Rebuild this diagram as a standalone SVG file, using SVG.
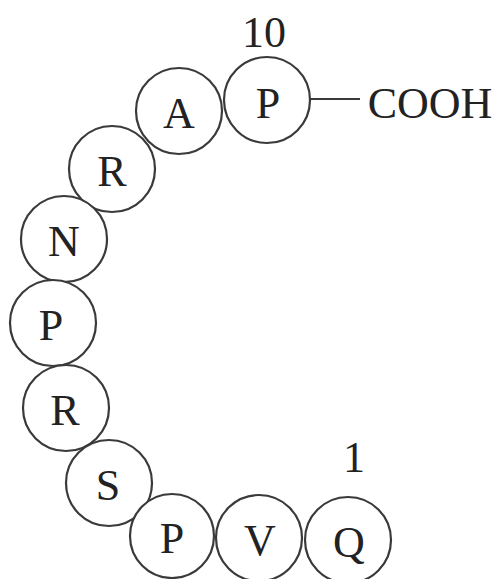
<svg xmlns="http://www.w3.org/2000/svg" width="500" height="579" viewBox="0 0 500 579">
<style>
circle{fill:#fff;stroke:#3a3a3a;stroke-width:2.2}
text{font-family:"Liberation Serif","Times New Roman",serif;font-size:44px;fill:#222;text-anchor:middle}
.c{stroke:#3a3a3a;stroke-width:2.2}
</style>
<rect width="500" height="579" fill="#fff"/>
<g id="connectors"><line class="c" x1="310" y1="99" x2="360" y2="99"/></g>
<g id="r10"><circle cx="267" cy="100" r="43"/><text x="268" y="118">P</text></g>
<g id="r9"><circle cx="179" cy="111" r="43"/><text x="179" y="128">A</text></g>
<g id="r8"><circle cx="112" cy="169" r="43"/><text x="112" y="186">R</text></g>
<g id="r7"><circle cx="64" cy="239" r="43"/><text x="64" y="256">N</text></g>
<g id="r6"><circle cx="53" cy="323" r="43"/><text x="51" y="340">P</text></g>
<g id="r5"><circle cx="66" cy="408" r="43"/><text x="65" y="425">R</text></g>
<g id="r4"><circle cx="109" cy="483" r="43"/><text x="108" y="500">S</text></g>
<g id="r3"><circle cx="172" cy="536" r="42"/><text x="172" y="553">P</text></g>
<g id="r2"><circle cx="259" cy="538" r="43"/><text x="260" y="555">V</text></g>
<g id="r1"><circle cx="348" cy="540" r="43"/><text x="349" y="557">Q</text></g>
<text x="264" y="47">10</text>
<text x="354" y="472">1</text>
<text x="430" y="118">COOH</text>
</svg>
